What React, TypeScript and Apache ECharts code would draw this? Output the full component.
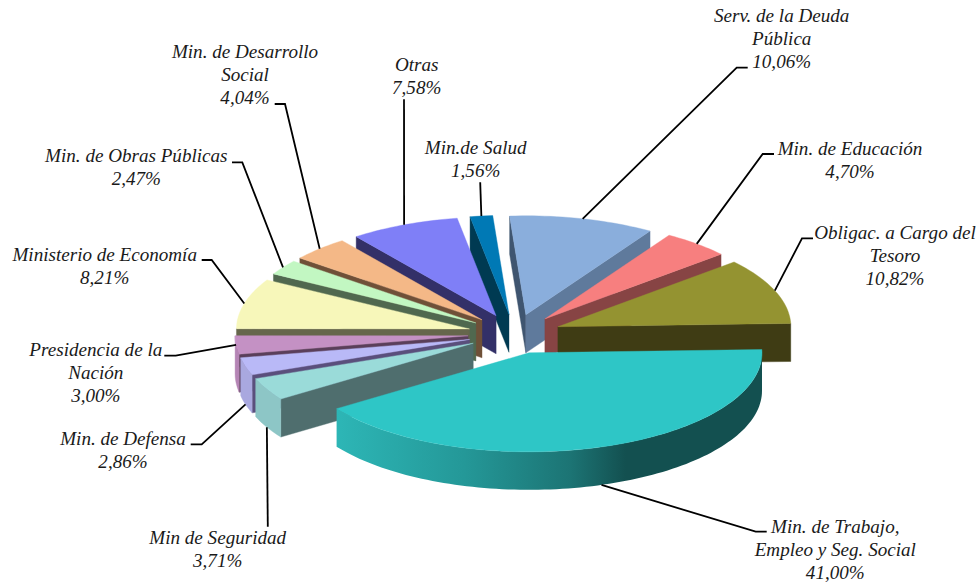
import React, { useEffect, useRef } from "react";
import * as echarts from "echarts";

// ---- data (clockwise from the top of the pie) ----
const categories = [
  "Serv. de la Deuda\nPública",
  "Min. de Educación",
  "Obligac. a Cargo del\nTesoro",
  "Min. de Trabajo,\nEmpleo y Seg. Social",
  "Min de Seguridad",
  "Min. de Defensa",
  "Presidencia de la\nNación",
  "Ministerio de Economía",
  "Min. de Obras Públicas",
  "Min. de Desarrollo\nSocial",
  "Otras",
  "Min.de Salud",
];
const shares = [10.06, 4.7, 10.82, 41.0, 3.71, 2.86, 3.0, 8.21, 2.47, 4.04, 7.58, 1.56];

// ---- styles ----
const topColors = ["#8AAEDC", "#F77F7F", "#949331", "#2EC6C6", "#9ADBD9", "#B9B9F7", "#C491C4", "#F7F7BA", "#C2F7C2", "#F4B887", "#7F7FF7", "#0079B5"];
const cutColors = ["#5F7A9C", "#874444", "#3F3C14", "#135050", "#4F6E6E", "#5A4F7C", "#5A3F5A", "#66664C", "#50684F", "#6F5038", "#333068", "#003A52"];
const startCutColors = ["#3F5570", "#874444", "#3F3C14", "#135050", "#4F6E6E", "#5A4F7C", "#5A3F5A", "#66664C", "#50684F", "#6F5038", "#333068", "#003A52"];
const rimColors = ["#5F7A9C", "#874444", "#3F3C14", "#135050", "#8DC6C6", "#A9A8DF", "#B585B5", "#DEDEA6", "#A9D8A9", "#D8A070", "#6666CC", "#00608F"];
const trabajoRimStops = [
  { offset: 0, color: "#2DB6B6" },
  { offset: 0.3, color: "#249898" },
  { offset: 0.55, color: "#1C7474" },
  { offset: 0.68, color: "#135050" },
  { offset: 1, color: "#135050" },
];

// ---- projection of the pie ----
const CX = 514.5, CY = 334, RX = 233, RY = 99, DEPTH = 38, EXPLODE = 0.2, ROTATE = -4;

// ---- label layout: block centre, and leader points from the label towards the slice ----
const labelCentres = [
  [781.7, 38], [850, 160.4], [895, 255], [835.3, 549], [217.7, 549.4], [123, 450],
  [95.8, 372], [104.7, 265.5], [136.3, 167.4], [245, 74], [416.7, 75.5], [475.7, 159],
];
const leaderEnds: number[][][] = [
  [[747.7, 67.7], [736.7, 67.7]],
  [[774, 154], [762.7, 154]],
  [[813, 238.3], [802, 238.3]],
  [[766.7, 531.7], [755.7, 531.7]],
  [[267.8, 526.7]],
  [[190.7, 444.3], [201.7, 444.3]],
  [[164.3, 355.7], [175.7, 355.7]],
  [[201.7, 260], [211.7, 260]],
  [[232, 162.3], [242.3, 162.3]],
  [[274.7, 104], [285, 104]],
  [[404, 99.3]],
  [[480.2, 182.3]],
];
const leaderOnRim = [false, false, false, true, true, true, false, false, false, false, false, false];

const FONT = "italic 19.1px 'Liberation Serif', serif";
const LINE_HEIGHT = 23;

const total = shares.reduce((a, b) => a + b, 0);
const startAngles: number[] = [];
shares.reduce((acc, v, i) => {
  startAngles[i] = ROTATE + (acc / total) * 360;
  return acc + v;
}, 0);
const rad = (d: number) => (d * Math.PI) / 180;

function sliceGeometry(i: number, value: number) {
  const a0 = startAngles[i];
  const a1 = a0 + (value / total) * 360;
  const mid = (a0 + a1) / 2;
  const ox = CX + EXPLODE * RX * Math.sin(rad(mid));
  const oy = CY - EXPLODE * RY * Math.cos(rad(mid));
  const at = (deg: number, dz = 0) => [ox + RX * Math.sin(rad(deg)), oy - RY * Math.cos(rad(deg)) + dz];
  return { a0, a1, mid, ox, oy, at };
}

function arcPoints(at: (d: number, z?: number) => number[], from: number, to: number, dz = 0) {
  const n = Math.max(2, Math.ceil((to - from) / 1.5));
  const pts: number[][] = [];
  for (let k = 0; k <= n; k++) pts.push(at(from + ((to - from) * k) / n, dz));
  return pts;
}

function renderSlice(params: any, api: any) {
  const i = params.dataIndex as number;
  const value = api.value(0) as number;
  const { a0, a1, mid, ox, oy, at } = sliceGeometry(i, value);
  const rank = Math.round((1 - Math.cos(rad(mid))) * 100) * 10;
  const children: any[] = [];
  const face = (points: number[][], fill: any, z: number) =>
    children.push({
      type: "polygon",
      shape: { points },
      z2: rank + z,
      style: { fill, stroke: typeof fill === "string" ? fill : undefined, lineWidth: 0.4 },
    });

  if (Math.sin(rad(a0)) < 0) {
    const p = at(a0);
    face([[ox, oy], p, [p[0], p[1] + DEPTH], [ox, oy + DEPTH]], startCutColors[i], 1);
  }
  if (Math.sin(rad(a1)) > 0) {
    const p = at(a1);
    face([[ox, oy], p, [p[0], p[1] + DEPTH], [ox, oy + DEPTH]], cutColors[i], 1);
  }
  const rimFrom = Math.max(a0, 90);
  const rimTo = Math.min(a1, 270);
  if (rimTo > rimFrom) {
    const pts = [...arcPoints(at, rimFrom, rimTo), ...arcPoints(at, rimFrom, rimTo, DEPTH).reverse()];
    const fill = i === 3 ? new echarts.graphic.LinearGradient(0, 0, 1, 0, trabajoRimStops) : rimColors[i];
    face(pts, fill, 2);
  }
  face([[ox, oy], ...arcPoints(at, a0, a1)], topColors[i], 3);
  return { type: "group", children };
}

function buildLabels() {
  const out: any[] = [];
  shares.forEach((v, i) => {
    const { mid, at } = sliceGeometry(i, v);
    const start = at(mid, leaderOnRim[i] ? DEPTH : 0);
    out.push({
      type: "polyline",
      z: 10,
      shape: { points: [...leaderEnds[i], start] },
      style: { stroke: "#000", lineWidth: 1.8, fill: "none" },
    });
    out.push({
      type: "text",
      z: 11,
      x: labelCentres[i][0],
      y: labelCentres[i][1],
      style: {
        text: `${categories[i]}\n${v.toFixed(2).replace(".", ",")}%`,
        font: FONT,
        fill: "#1a1a1a",
        textAlign: "center",
        textVerticalAlign: "middle",
        lineHeight: LINE_HEIGHT,
      },
    });
  });
  return out;
}

export default function App() {
  const ref = useRef<HTMLDivElement>(null);
  useEffect(() => {
    document.body.style.margin = "0";
    const chart = echarts.init(ref.current!, undefined, { renderer: "svg" });
    chart.setOption({
      animation: false,
      backgroundColor: "#ffffff",
      series: [
        {
          type: "custom",
          coordinateSystem: "none",
          renderItem: renderSlice,
          data: shares.map((v) => [v]),
          silent: true,
        },
      ],
      graphic: { elements: buildLabels() },
    });
    return () => chart.dispose();
  }, []);
  return <div ref={ref} style={{ position: "absolute", left: 0, top: 0, width: 980, height: 586 }} />;
}
